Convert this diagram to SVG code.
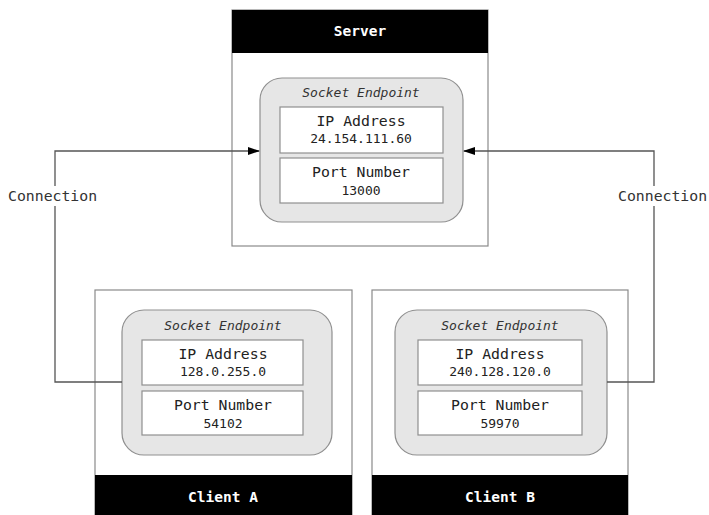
<svg xmlns="http://www.w3.org/2000/svg" width="709" height="515" viewBox="0 0 709 515">
<style>
.host{fill:#fff;stroke:#8a8a8a;stroke-width:1.2}
.bar{fill:#000}
.title{font-family:"DejaVu Sans Mono","Liberation Mono",monospace;font-weight:bold;font-size:14.5px;fill:#fff;text-anchor:middle}
.ep{fill:#e6e6e6;stroke:#8f8f8f;stroke-width:1.2}
.cell{fill:#fff;stroke:#8f8f8f;stroke-width:1.2}
.lbl{font-family:"DejaVu Sans Mono","Liberation Mono",monospace;font-size:14.8px;fill:#222;text-anchor:middle}
.val{font-family:"DejaVu Sans Mono","Liberation Mono",monospace;font-size:13px;fill:#222;text-anchor:middle}
.ital{font-family:"DejaVu Sans Mono","Liberation Mono",monospace;font-size:13px;font-style:italic;fill:#333;text-anchor:middle}
.conn{fill:none;stroke:#555;stroke-width:1.3}
.clbl{font-family:"DejaVu Sans Mono","Liberation Mono",monospace;font-size:14.8px;fill:#333}
</style>
<defs>
<marker id="arr" markerWidth="12" markerHeight="8" refX="11" refY="4" orient="auto" markerUnits="userSpaceOnUse">
<path d="M0,0 L12,4 L0,8 Z" fill="#000"/>
</marker>
</defs>
<rect width="709" height="515" fill="#fff"/>

<g id="server">
<rect class="host" x="232" y="10" width="256" height="236"/>
<rect class="bar" x="232" y="10" width="256" height="43"/>
<text class="title" x="360" y="36">Server</text>
<rect class="ep" x="260" y="78" width="203" height="144" rx="22"/>
<text class="ital" x="361" y="97">Socket Endpoint</text>
<rect class="cell" x="280" y="107" width="163" height="46"/>
<text class="lbl" x="361" y="126">IP Address</text>
<text class="val" x="361" y="143">24.154.111.60</text>
<rect class="cell" x="280" y="158" width="163" height="45"/>
<text class="lbl" x="361" y="177">Port Number</text>
<text class="val" x="361" y="195">13000</text>
</g>

<g id="clientA">
<rect class="host" x="95" y="290" width="257" height="230"/>
<rect class="bar" x="95" y="475" width="257" height="45"/>
<text class="title" x="223" y="502">Client A</text>
<rect class="ep" x="122" y="310" width="210" height="145" rx="22"/>
<text class="ital" x="223" y="330">Socket Endpoint</text>
<rect class="cell" x="142" y="340" width="161" height="45"/>
<text class="lbl" x="223" y="359">IP Address</text>
<text class="val" x="223" y="376">128.0.255.0</text>
<rect class="cell" x="142" y="391" width="161" height="44"/>
<text class="lbl" x="223" y="410">Port Number</text>
<text class="val" x="223" y="428">54102</text>
</g>

<g id="clientB">
<rect class="host" x="372" y="290" width="256" height="230"/>
<rect class="bar" x="372" y="475" width="256" height="45"/>
<text class="title" x="500" y="502">Client B</text>
<rect class="ep" x="395" y="310" width="212" height="145" rx="22"/>
<text class="ital" x="500" y="330">Socket Endpoint</text>
<rect class="cell" x="418" y="340" width="164" height="45"/>
<text class="lbl" x="500" y="359">IP Address</text>
<text class="val" x="500" y="376">240.128.120.0</text>
<rect class="cell" x="418" y="391" width="164" height="44"/>
<text class="lbl" x="500" y="410">Port Number</text>
<text class="val" x="500" y="428">59970</text>
</g>

<g id="connectors">
<polyline class="conn" points="122,382 55,382 55,151 259,151" marker-end="url(#arr)"/>
<polyline class="conn" points="607,382 654,382 654,151 464,151" marker-end="url(#arr)"/>
<rect x="6" y="186" width="94" height="20" fill="#fff"/>
<text class="clbl" x="8" y="201">Connection</text>
<rect x="616" y="186" width="93" height="20" fill="#fff"/>
<text class="clbl" x="618" y="201">Connection</text>
</g>
</svg>
